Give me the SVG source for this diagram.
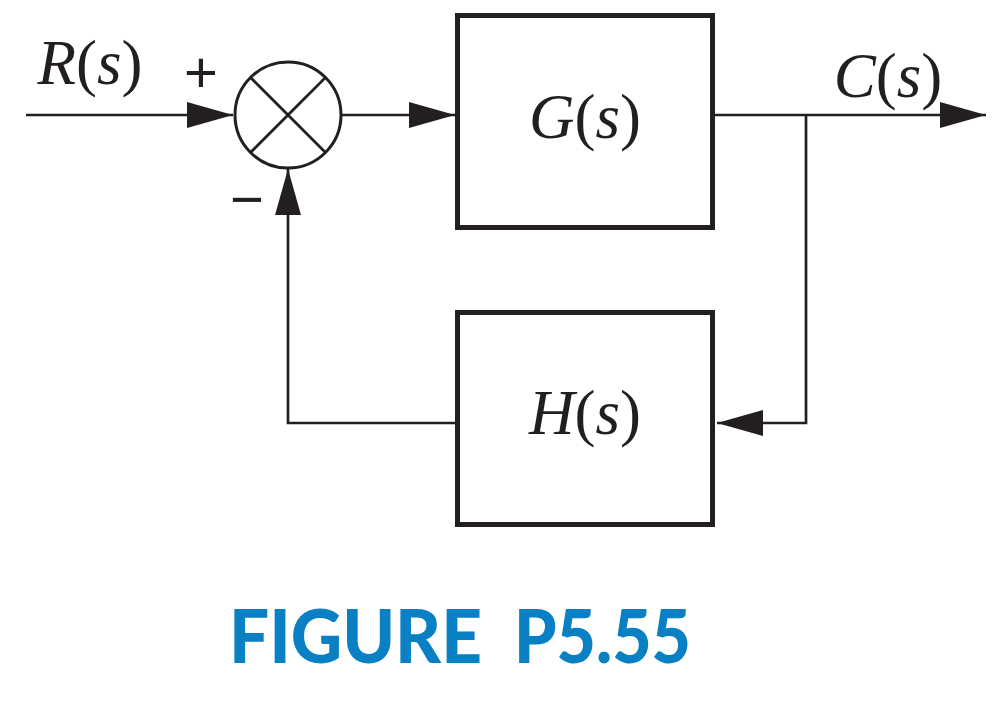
<svg xmlns="http://www.w3.org/2000/svg" width="1002" height="705" viewBox="0 0 1002 705">
<style>
.blk{fill:none;stroke:#231f20;stroke-width:5}
.ln{fill:none;stroke:#231f20;stroke-width:2.7}
.math{font-family:"Liberation Serif","Times New Roman",serif;font-style:italic;font-size:63px;fill:#231f20}
.up{font-style:normal}
.sign{font-family:"Liberation Sans",sans-serif;font-size:58px;fill:#231f20}
.cap{font-family:Lato,"Liberation Sans",sans-serif;font-weight:900;font-size:74px;fill:#0a80c4}
</style>
<defs>
<marker id="ah" markerUnits="userSpaceOnUse" markerWidth="48" markerHeight="26" viewBox="0 0 48 26" refX="46" refY="13" orient="auto">
<path d="M0,0 L46,13 L0,26 Z" fill="#231f20"/>
</marker>
</defs>
<g id="connectors">
<line class="ln" x1="26" y1="115" x2="233" y2="115" marker-end="url(#ah)"/>
<line class="ln" x1="342" y1="115" x2="455" y2="115" marker-end="url(#ah)"/>
<line class="ln" x1="715" y1="115" x2="986" y2="115" marker-end="url(#ah)"/>
<polyline class="ln" points="806,115 806,423 717,423" marker-end="url(#ah)"/>
<polyline class="ln" points="455,423 288,423 288,169" marker-end="url(#ah)"/>
</g>
<g id="sum">
<circle cx="288" cy="115" r="53" fill="#fff" stroke="#231f20" stroke-width="3"/>
<line class="ln" x1="250.5" y1="77.5" x2="325.5" y2="152.5"/>
<line class="ln" x1="325.5" y1="77.5" x2="250.5" y2="152.5"/>
<text class="sign" x="201" y="92" text-anchor="middle">+</text>
<text class="sign" x="247" y="219" text-anchor="middle">−</text>
</g>
<g id="G">
<rect class="blk" x="457.5" y="15.5" width="255" height="212"/>
<text class="math" x="585" y="138" text-anchor="middle">G<tspan class="up">(</tspan>s<tspan class="up">)</tspan></text>
</g>
<g id="H">
<rect class="blk" x="457.5" y="312.5" width="255" height="212"/>
<text class="math" x="585" y="434" text-anchor="middle">H<tspan class="up">(</tspan>s<tspan class="up">)</tspan></text>
</g>
<g id="R">
<text class="math" x="90" y="84" text-anchor="middle">R<tspan class="up">(</tspan>s<tspan class="up">)</tspan></text>
</g>
<g id="C">
<text class="math" x="888" y="97" text-anchor="middle">C<tspan class="up">(</tspan>s<tspan class="up">)</tspan></text>
</g>
<text class="cap" y="663"><tspan x="229" textLength="253" lengthAdjust="spacingAndGlyphs">FIGURE</tspan><tspan x="514" textLength="177" lengthAdjust="spacingAndGlyphs">P5.55</tspan></text>
</svg>
